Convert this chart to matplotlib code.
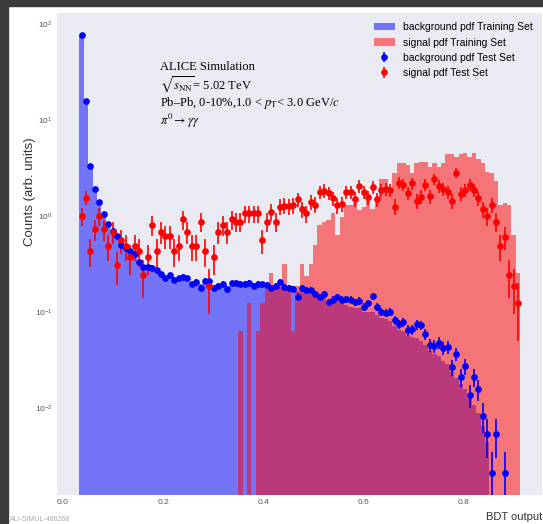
import matplotlib
matplotlib.use('Agg')
import matplotlib.pyplot as plt
import numpy as np
from matplotlib.patches import Rectangle
from matplotlib.ticker import NullLocator

plt.rcParams['font.family'] = ['Liberation Sans', 'DejaVu Sans']

# BDT output binning (100 bins between min and max score)
bdt_lo, bdt_hi, n_bins = 0.0329, 0.9123, 100

# background, training set (normalised)
bkg_train = [77, 15.5, 3.4, 1.85, 1.35, 1.05, 0.83, 0.70, 0.60, 0.51,
             0.46, 0.43, 0.39, 0.34, 0.30, 0.29, 0.28, 0.27, 0.25, 0.235,
             0.235, 0.225, 0.225, 0.22, 0.215, 0.205, 0.205, 0.195, 0.20, 0.20,
             0.19, 0.19, 0.19, 0.185, 0.19, 0.19, 0.19, 0.19, 0.19, 0.185,
             0.185, 0.185, 0.185, 0.18, 0.18, 0.185, 0.18, 0.175, 0.19, 0.165,
             0.17, 0.165, 0.16, 0.15, 0.14, 0.14, 0.125, 0.125, 0.13, 0.125,
             0.12, 0.115, 0.11, 0.11, 0.10, 0.10, 0.10, 0.095, 0.088, 0.085,
             0.082, 0.072, 0.066, 0.064, 0.057, 0.055, 0.054, 0.05, 0.046, 0.04,
             0.037, 0.035, 0.031, 0.029, 0.024, 0.021, 0.018, 0.016, 0.013, 0.011,
             0.009, 0.0065, 0.0045, 0, 0, 0, 0, 0, 0, 0]

# signal, training set (normalised)
sig_train = [0, 0, 0, 0, 0, 0, 0, 0, 0, 0,
             0, 0, 0, 0, 0, 0, 0, 0, 0, 0,
             0, 0, 0, 0, 0, 0, 0, 0, 0, 0,
             0, 0, 0, 0, 0, 0, 0.064, 0, 0.126, 0,
             0.064, 0.126, 0.19, 0.255, 0.19, 0.19, 0.318, 0.19, 0.064, 0.19,
             0.32, 0.24, 0.32, 0.50, 0.81, 0.88, 0.91, 1.07, 0.64, 0.99,
             1.31, 1.31, 1.38, 1.16, 1.26, 1.60, 1.18, 1.60, 2.42, 2.42,
             1.91, 2.80, 3.60, 3.60, 3.41, 2.80, 3.60, 3.69, 3.69, 3.27,
             3.55, 3.27, 3.55, 4.43, 4.43, 4.16, 4.43, 4.52, 4.16, 4.52,
             3.91, 3.60, 2.90, 2.80, 2.34, 1.31, 1.36, 1.31, 0.64, 0.255]

# background, test set (normalised)
bkg_test = [76.9, 15.8, 3.33, 1.90, 1.39, 1.05, 0.824, 0.70, 0.618, 0.50,
            0.463, 0.435, 0.401, 0.336, 0.296, 0.296, 0.292, 0.275, 0.248, 0.227,
            0.244, 0.217, 0.226, 0.236, 0.226, 0.197, 0.208, 0.181, 0.212, 0.212,
            0.181, 0.188, 0.196, 0.173, 0.200, 0.203, 0.196, 0.197, 0.204, 0.188,
            0.197, 0.195, 0.193, 0.178, 0.190, 0.208, 0.185, 0.178, 0.175, 0.146,
            0.180, 0.171, 0.171, 0.154, 0.145, 0.154, 0.127, 0.136, 0.145, 0.136,
            0.137, 0.136, 0.127, 0.132, 0.114, 0.124, 0.148, 0.114, 0.101, 0.099,
            0.101, 0.083, 0.0756, 0.0793, 0.0655, 0.0666, 0.075, 0.0734, 0.0595, 0.0457,
            0.0446, 0.0485, 0.0425, 0.0435, 0.0268, 0.0370, 0.0212, 0.0276, 0.0138, 0.0212,
            0.0159, 0.00844, 0.00537, 0.00211, 0.00537, 0, 0.00211, 0, 0, 0]

# signal, test set (normalised)
sig_test = [1.005, 1.565, 0.440, 0.736, 1.005, 0.736, 0.490, 0.690, 0.311, 0.566,
            0.490, 0.374, 0.490, 0.440, 0.247, 0.374, 0.810, 0.440, 0.690, 0.622,
            0.622, 0.440, 0.490, 0.929, 0.690, 0.490, 0.490, 0.877, 0.440, 0.188,
            0.374, 0.690, 0.810, 0.690, 0.929, 0.877, 0.877, 1.072, 1.072, 1.072,
            1.072, 0.566, 0.877, 1.114, 0.877, 1.256, 1.292, 1.277, 1.308, 1.499,
            1.180, 1.072, 1.415, 1.324, 1.798, 1.850, 1.742, 1.536, 1.308, 1.349,
            1.785, 1.785, 1.510, 2.062, 1.785, 1.573, 1.999, 1.499, 1.873, 1.919,
            1.873, 1.256, 2.232, 2.128, 1.742, 2.199, 1.439, 1.595, 2.128, 1.623,
            2.421, 2.062, 1.919, 1.798, 1.439, 2.837, 1.714, 1.860, 2.128, 1.887,
            1.547, 1.183, 1.005, 1.318, 0.877, 0.490, 0.615, 0.247, 0.188, 0.125]

# weight of a single test event in each normalised histogram
bkg_event = 0.001
sig_event = 0.045

edges = np.linspace(bdt_lo, bdt_hi, n_bins + 1)
centers = 0.5 * (edges[1:] + edges[:-1])

fig = plt.figure(figsize=(5.43, 5.24), dpi=100, facecolor='white')
# dark frame on the left and top
fig.patches.append(Rectangle((0, 0), 8 / 543, 1, transform=fig.transFigure,
                             color='#3b3b3b', zorder=0))
fig.patches.append(Rectangle((0, 1 - 6 / 524), 1, 6 / 524, transform=fig.transFigure,
                             color='#3b3b3b', zorder=0))

ax = fig.add_axes([57.4 / 543, 29 / 524, (542.3 - 57.4) / 543, 482 / 524])
ax.set_facecolor('#EAEAF2')
for s in ax.spines.values():
    s.set_visible(False)

ax.hist(centers, bins=edges, weights=bkg_train, histtype='stepfilled',
        color='b', alpha=0.5, log=True, label='background pdf Training Set')
ax.hist(centers, bins=edges, weights=sig_train, histtype='stepfilled',
        color='r', alpha=0.5, log=True, label='signal pdf Training Set')

for vals, unit, col, lab in [(bkg_test, bkg_event, 'b', 'background pdf Test Set'),
                             (sig_test, sig_event, 'r', 'signal pdf Test Set')]:
    v = np.array(vals)
    m = v > 0
    err = np.sqrt(v[m] * unit)
    ax.errorbar(centers[m], v[m], yerr=err, fmt='o', color=col, ms=3.8,
                elinewidth=1.2, capsize=0, label=lab)

ax.set_yscale('log')
ax.set_xlim(bdt_lo - 0.05 * (bdt_hi - bdt_lo), bdt_hi + 0.05 * (bdt_hi - bdt_lo))
ax.set_ylim(1.26e-3, 130)
ax.set_xticks([0.0, 0.2, 0.4, 0.6, 0.8])
ax.yaxis.set_minor_locator(NullLocator())
ax.tick_params(which='both', length=0, labelsize=6, labelcolor='#555555', pad=3)
ax.tick_params(axis='y', pad=3.5)

ax.set_xlabel('BDT output', loc='right', fontsize=8, color='#333333')
ax.set_ylabel('Counts (arb. units)', fontsize=9.5, color='#333333')
ax.yaxis.set_label_coords(-0.044, 0.63)

ax.legend(loc='upper right', frameon=False, fontsize=7.5)

txt = dict(transform=ax.transAxes, fontsize=9, family='Liberation Serif',
           math_fontfamily='stix', va='center', ha='left')
ax.text(0.212, 0.888, 'ALICE Simulation', **txt)
ax.text(0.212, 0.851, r'$\sqrt{s_{\rm NN}}$= 5.02 TeV', **txt)
ax.text(0.212, 0.814, r'Pb–Pb, 0-10%,1.0 < $p_{\rm T}$< 3.0 GeV/$c$', **txt)
ax.text(0.212, 0.777, r'$\pi^0 \rightarrow \gamma\gamma$', **txt)

# figure id in the lower left corner
fig.text(10 / 543, 1 / 524, 'ALI-SIMUL-486268', fontsize=5, color='#aaaaaa',
         va='bottom', ha='left')

fig.savefig('out.png', dpi=100)
